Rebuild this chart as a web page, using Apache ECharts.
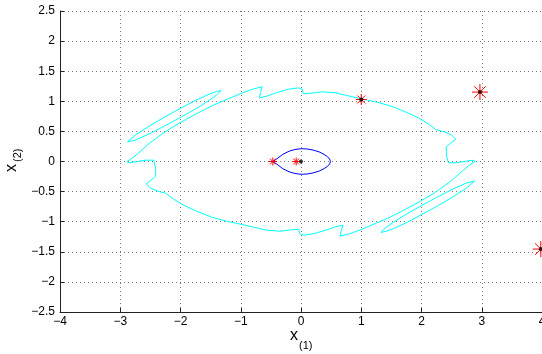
<!DOCTYPE html>
<html>
<head>
<meta charset="utf-8">
<script src="https://cdn.jsdelivr.net/npm/echarts@6/dist/echarts.min.js"></script>
<style>
html, body { margin: 0; padding: 0; background: #fff; }
#main { width: 542px; height: 354px; }
</style>
</head>
<body>
<div id="main"></div>
<script>
// cyan closed curve (main boundary)
var mainX = [-2.892,-2.771,-2.638,-2.505,-2.339,-2.140,-1.907,-1.674,-1.442,-1.226,-1.010,-0.811,-0.645,-0.669,-0.694,-0.578,-0.412,-0.213,-0.047,0.020,0.037,0.153,0.352,0.568,0.784,1.000,1.233,1.482,1.731,1.947,2.113,2.246,2.379,2.495,2.570,2.478,2.412,2.412,2.445,2.578,2.728,2.844,
             2.892,2.771,2.638,2.505,2.339,2.140,1.907,1.674,1.442,1.226,1.010,0.811,0.645,0.669,0.694,0.578,0.412,0.213,0.047,-0.020,-0.037,-0.153,-0.352,-0.568,-0.784,-1.000,-1.233,-1.482,-1.731,-1.947,-2.113,-2.246,-2.379,-2.495,-2.570,-2.478,-2.412,-2.412,-2.445,-2.578,-2.728,-2.844,-2.892];
var mainY = [-0.005,0.078,0.194,0.311,0.435,0.568,0.701,0.826,0.942,1.033,1.125,1.199,1.241,1.150,1.058,1.083,1.141,1.199,1.224,1.199,1.125,1.133,1.158,1.141,1.091,1.042,0.992,0.925,0.826,0.726,0.626,0.527,0.493,0.443,0.369,0.302,0.244,0.111,-0.022,-0.022,0.003,0.020,
             0.005,-0.078,-0.194,-0.311,-0.435,-0.568,-0.701,-0.826,-0.942,-1.033,-1.125,-1.199,-1.241,-1.150,-1.058,-1.083,-1.141,-1.199,-1.224,-1.199,-1.125,-1.133,-1.158,-1.141,-1.091,-1.042,-0.992,-0.925,-0.826,-0.726,-0.626,-0.527,-0.493,-0.443,-0.369,-0.302,-0.244,-0.111,0.022,0.022,-0.003,-0.020,-0.005];

// two thin cyan islands
var islandAX = [-2.879,-2.754,-2.505,-2.256,-2.007,-1.757,-1.541,-1.408,-1.326,-1.408,-1.541,-1.757,-2.007,-2.256,-2.505,-2.754,-2.879];
var islandAY = [0.327,0.437,0.598,0.743,0.879,1.012,1.111,1.161,1.178,1.098,1.005,0.869,0.729,0.593,0.465,0.354,0.327];
var islandBX = [2.879,2.754,2.505,2.256,2.007,1.757,1.541,1.408,1.326,1.408,1.541,1.757,2.007,2.256,2.505,2.754,2.879];
var islandBY = [-0.327,-0.437,-0.598,-0.743,-0.879,-1.012,-1.111,-1.161,-1.178,-1.098,-1.005,-0.869,-0.729,-0.593,-0.465,-0.354,-0.327];

// blue lens
var lensX = [-0.467,-0.4,-0.3,-0.2,-0.1,0,0.1,0.2,0.3,0.38,0.44,0.475,0.49,0.475,0.44,0.38,0.3,0.2,0.1,0,-0.1,-0.2,-0.3,-0.4,-0.467];
var lensY = [0,0.045,0.12,0.17,0.2,0.212,0.208,0.19,0.16,0.12,0.08,0.04,0,-0.04,-0.08,-0.12,-0.16,-0.19,-0.208,-0.212,-0.2,-0.17,-0.12,-0.045,0];

// red asterisks and black dots
var starX = [-0.467, -0.08, 1.0, 2.97, 3.98];
var starY = [0, 0, 1.03, 1.153, -1.455];
var dotX = [0, 1.0, 2.97, 3.98];
var dotY = [0, 1.03, 1.153, -1.455];

var chart = echarts.init(document.getElementById('main'), null, {renderer: 'canvas'});
var FONT = '"Liberation Sans", Arial, sans-serif';
var starSize = [4, 4, 5.5, 8, 8];

function pairs(xs, ys) {
    return xs.map(function (x, i) { return [x, ys[i]]; });
}
// matlab prints a real minus sign
function tickText(v) {
    return String(v).replace('-', '\u2212');
}
function cyanLine(xs, ys) {
    return {
        type: 'line', data: pairs(xs, ys), showSymbol: false, z: 2,
        lineStyle: {color: '#00ffff', width: 1}, silent: true
    };
}

var axisCommon = {
    type: 'value',
    axisLine: {show: true, onZero: false, lineStyle: {color: '#222', width: 1}},
    axisTick: {show: true, inside: true, length: 4, lineStyle: {color: '#222'}},
    splitLine: {show: true, lineStyle: {color: '#777', width: 1, type: [1, 3]}},
    axisLabel: {color: '#000', fontSize: 12, fontFamily: FONT, formatter: tickText}
};

var option = {
    animation: false,
    backgroundColor: '#fff',
    grid: {left: 60, right: 0, top: 11, bottom: 42, outerBoundsMode: 'none'},
    xAxis: echarts.util.merge({min: -4, max: 4, interval: 1, axisLabel: {margin: 4}}, axisCommon),
    yAxis: echarts.util.merge({min: -2.5, max: 2.5, interval: 0.5, axisLabel: {margin: 5}}, axisCommon),
    graphic: [
        {type: 'text', x: 290, y: 336, style: {text: 'x', font: '16px ' + FONT, fill: '#000', align: 'left', verticalAlign: 'middle'}},
        {type: 'text', x: 299, y: 346, style: {text: '(1)', font: '11px ' + FONT, fill: '#000', align: 'left', verticalAlign: 'middle'}},
        {type: 'text', x: 12, y: 172, rotation: Math.PI / 2, style: {text: 'x', font: '16px ' + FONT, fill: '#000', align: 'left', verticalAlign: 'middle'}},
        {type: 'text', x: 18, y: 162, rotation: Math.PI / 2, style: {text: '(2)', font: '11px ' + FONT, fill: '#000', align: 'left', verticalAlign: 'middle'}}
    ],
    series: [
        cyanLine(mainX, mainY),
        cyanLine(islandAX, islandAY),
        cyanLine(islandBX, islandBY),
        {
            type: 'line', data: pairs(lensX, lensY), showSymbol: false, z: 3, silent: true,
            lineStyle: {color: '#0000ff', width: 1}
        },
        {
            // '*' markers: plus and cross drawn as strokes
            type: 'custom', z: 4, silent: true,
            data: pairs(starX, starY),
            renderItem: function (params, api) {
                var c = api.coord([api.value(0), api.value(1)]);
                var r = starSize[params.dataIndex], d = r * 0.72;
                var segs = [[-r, 0, r, 0], [0, -r, 0, r], [-d, -d, d, d], [-d, d, d, -d]];
                return {
                    type: 'group',
                    children: segs.map(function (s) {
                        return {
                            type: 'line',
                            shape: {x1: c[0] + s[0], y1: c[1] + s[1], x2: c[0] + s[2], y2: c[1] + s[3]},
                            style: {stroke: '#ff0000', lineWidth: 1}
                        };
                    })
                };
            }
        },
        {
            type: 'scatter', data: pairs(dotX, dotY), z: 5, silent: true,
            symbol: 'circle', symbolSize: 4, itemStyle: {color: '#000'}
        }
    ]
};
chart.setOption(option);
</script>
</body>
</html>
